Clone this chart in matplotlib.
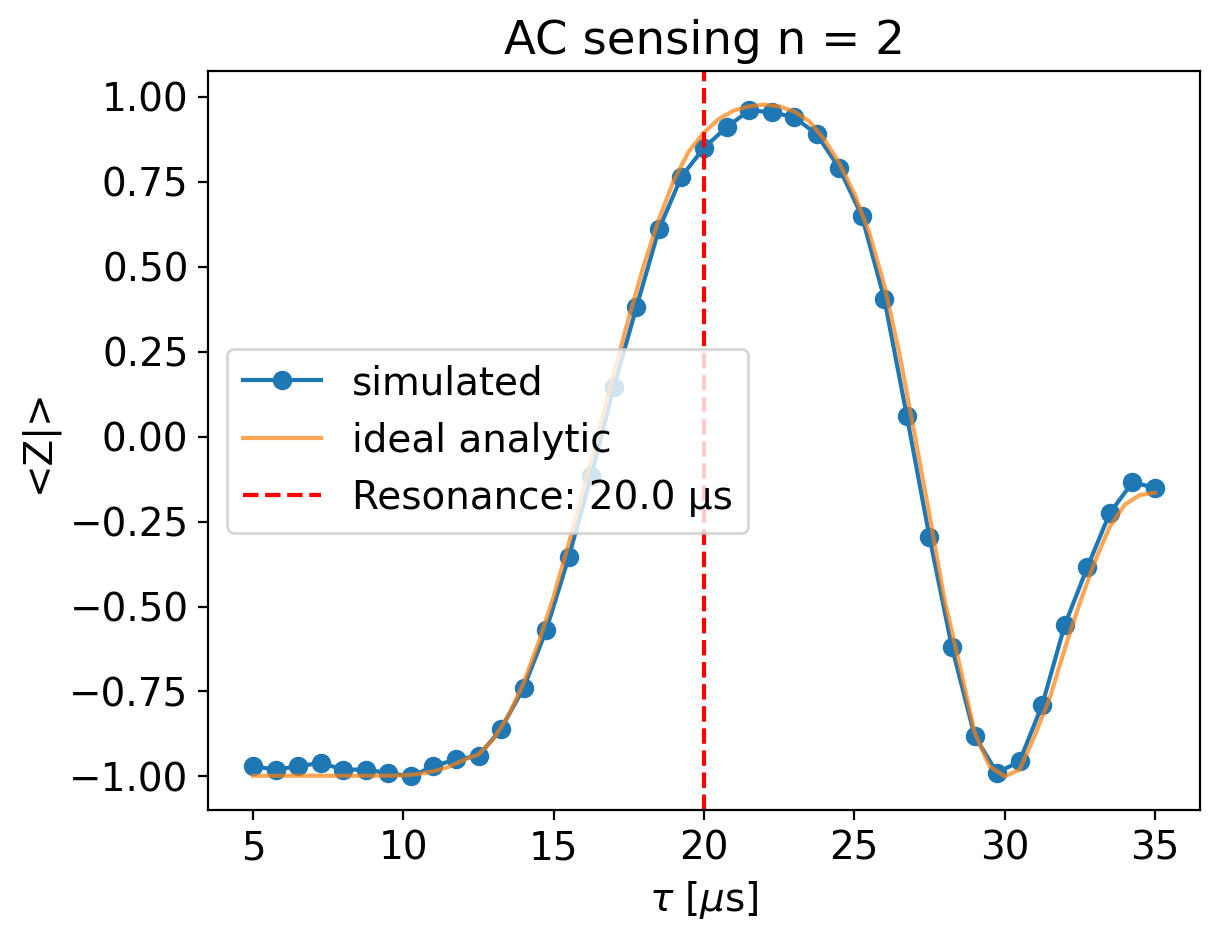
import matplotlib
matplotlib.use("Agg")
import matplotlib.pyplot as plt
import numpy as np

# simulated points (tau in us)
tauSim = np.linspace(5, 35, 41)
zSim = [-0.97, -0.98, -0.97, -0.96, -0.98, -0.98, -0.99, -1.00, -0.97, -0.95,
        -0.94, -0.86, -0.74, -0.57, -0.355, -0.115, 0.145, 0.38, 0.61, 0.765,
        0.85, 0.91, 0.96, 0.955, 0.94, 0.89, 0.79, 0.65, 0.405, 0.06,
        -0.295, -0.62, -0.88, -0.99, -0.955, -0.79, -0.555, -0.385, -0.225, -0.135,
        -0.15]

tauIdeal = np.arange(5, 35.01, 0.5)
zIdeal = [-0.998, -0.998, -0.998, -0.998, -0.998, -0.998, -0.998, -0.998, -0.998, -0.998,
          -0.997, -0.993, -0.985, -0.972, -0.952, -0.935, -0.89, -0.82, -0.725, -0.605,
          -0.47, -0.315, -0.15, 0.015, 0.185, 0.35, 0.505, 0.64, 0.755, 0.84,
          0.895, 0.935, 0.96, 0.972, 0.977, 0.972, 0.957, 0.928, 0.875, 0.805,
          0.715, 0.6, 0.445, 0.245, 0.01, -0.23, -0.48, -0.67, -0.87, -0.97,
          -1.0, -0.98, -0.88, -0.77, -0.625, -0.49, -0.368, -0.265, -0.2, -0.172,
          -0.165]

resonance = 20.0

plt.rcParams['font.size'] = 14

fig = plt.figure(figsize=(6.095, 4.705), dpi=200)
ax = fig.add_axes([0.1706, 0.1392, 0.8138, 0.7853])
ax.plot(tauSim, zSim, 'o-', color='#1f77b4', label='simulated')
ax.plot(tauIdeal, zIdeal, color='#ff7f0e', alpha=0.7, label='ideal analytic')
ax.axvline(resonance, color='r', ls='--', label='Resonance: %.1f µs' % resonance)
ax.set_title("AC sensing n = 2")
ax.set_xlabel(r'$\tau$ [$\mu$s]')
ax.set_ylabel('<Z|>')
ax.legend(loc='center left')

fig.savefig('out.png', dpi=200)
